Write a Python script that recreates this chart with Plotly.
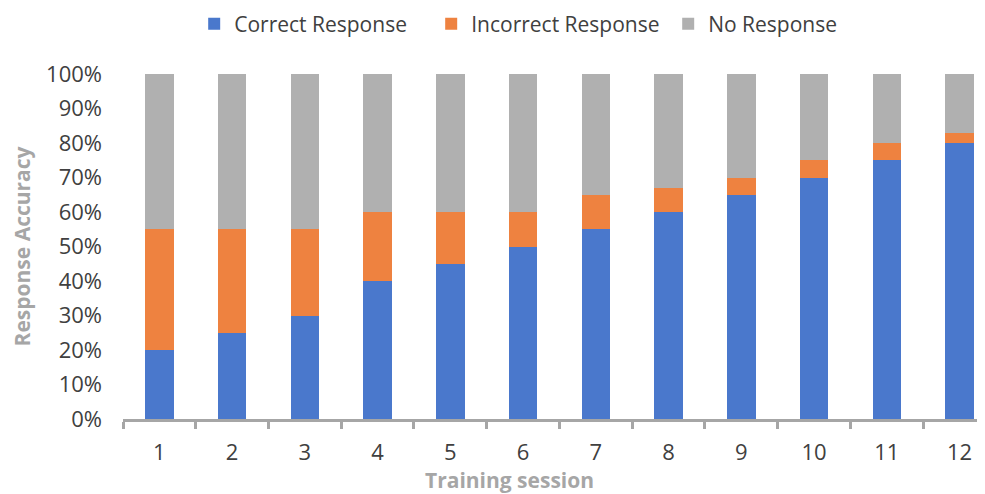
import plotly.graph_objects as go

sessions = [1, 2, 3, 4, 5, 6, 7, 8, 9, 10, 11, 12]
correct = [20, 25, 30, 40, 45, 50, 55, 60, 65, 70, 75, 80]
incorrect = [35, 30, 25, 20, 15, 10, 10, 7, 5, 5, 5, 3]
no_response = [100 - c - i for c, i in zip(correct, incorrect)]
y_ticks = [0, 10, 20, 30, 40, 50, 60, 70, 80, 90, 100]
y_labels = [f"{v}%" for v in y_ticks]

font_family = "Open Sans, Noto Sans, DejaVu Sans, sans-serif"
text_color = "#404040"
title_color = "#A6A6A6"

fig = go.Figure()
fig.add_trace(go.Bar(x=sessions, y=correct, name="Correct Response",
                     marker=dict(color="#4A78CC", line=dict(width=0))))
fig.add_trace(go.Bar(x=sessions, y=incorrect, name="Incorrect Response",
                     marker=dict(color="#EE8240", line=dict(width=0))))
fig.add_trace(go.Bar(x=sessions, y=no_response, name="No Response",
                     marker=dict(color="#B0B0B0", line=dict(width=0))))

fig.update_layout(
    barmode="stack",
    bargap=0.61,
    width=985, height=494,
    margin=dict(l=115, r=8, t=66, b=83, autoexpand=False),
    paper_bgcolor="white", plot_bgcolor="white",
    font=dict(family=font_family, size=21, color=text_color),
    legend=dict(orientation="h", x=0.495, xanchor="center", y=1.145,
                yanchor="middle", font=dict(size=21, color=text_color),
                traceorder="normal", entrywidth=192),
    showlegend=True,
)
fig.add_annotation(
    text="<b>Training session</b>", xref="paper", yref="paper",
    x=0.448, y=-0.178, xanchor="center", yanchor="middle", showarrow=False,
    font=dict(size=21, color=title_color),
)
fig.update_xaxes(
    range=[0.5, 12.35],
    tickmode="array", tickvals=sessions, ticktext=[str(s) for s in sessions],
    ticks="", showgrid=False, zeroline=False,
    showline=True, linecolor="#A6A6A6", linewidth=3,
    ticklabelstandoff=12,
    tickfont=dict(size=22, color=text_color),
    minor=dict(tickmode="array", tickvals=[s - 0.5 for s in sessions],
               ticks="outside", ticklen=7, tickwidth=3, tickcolor="#A6A6A6", showgrid=False),
)
fig.update_yaxes(
    range=[0, 100],
    tickmode="array", tickvals=y_ticks, ticktext=y_labels,
    showgrid=False, zeroline=False, showline=False, ticks="",
    ticklabelstandoff=20,
    tickfont=dict(size=22, color=text_color),
    title=dict(text="<b>Response Accuracy</b>", font=dict(size=21, color=title_color), standoff=10),
)

fig.write_html("out.html")
